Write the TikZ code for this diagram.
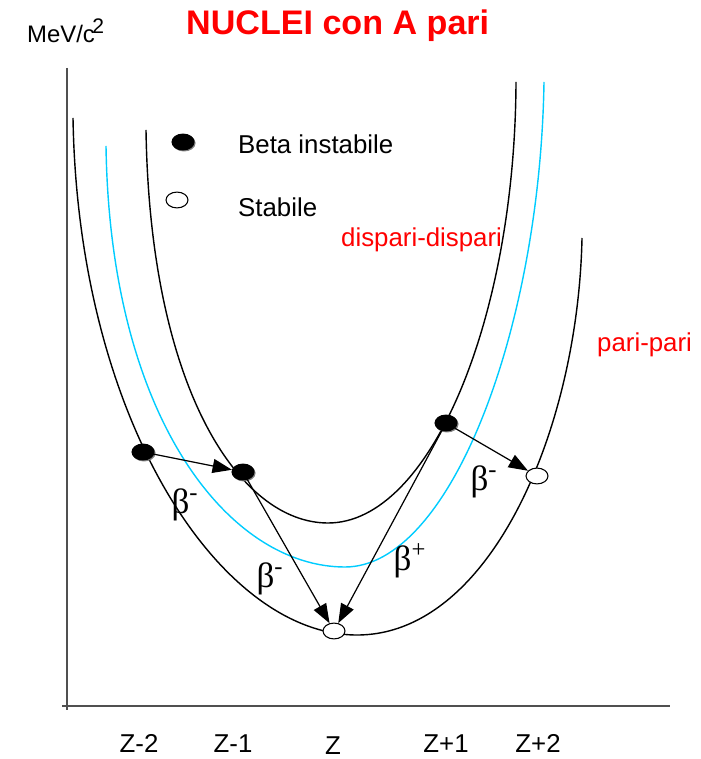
\documentclass[tikz,border=0pt]{standalone}
\usepackage{fontspec}
\setmainfont{Liberation Sans}
\newfontfamily\betafont{Liberation Serif}
\usetikzlibrary{shapes.geometric, shadows, arrows.meta}
\definecolor{NucleiRed}{RGB}{255, 0, 0}
\definecolor{NucleiCyan}{RGB}{0, 204, 255}
\definecolor{NucleiAxis}{RGB}{80, 80, 80}

\tikzset{
    curve/.style={line width=0.8pt},
    nucleus/.style={ellipse, draw, line width=0.6pt, minimum width=12.5pt, minimum height=9pt, inner sep=0pt},
    instabile/.style={nucleus, fill=black, copy shadow={shadow xshift=0.6pt, shadow yshift=-0.6pt, fill=gray, draw=gray}},
    stabile/.style={nucleus, fill=white},
    decay/.style={-{Triangle[length=11pt, width=8pt]}, line width=0.7pt},
    txt/.style={font=\fontsize{14.7}{17}\selectfont},
    betalab/.style={font=\betafont\fontsize{20}{22}\selectfont}
}

\begin{document}
\begin{tikzpicture}[x=0.02cm, y=-0.02cm]
    \useasboundingbox (0,0) rectangle (700,759);

    % --- Axes ---
    \draw[NucleiAxis, line width=1pt] (67,68) -- (67,710);
    \draw[NucleiAxis, line width=1.2pt] (62,706) -- (670,706);

    % --- Mass parabolas ---
    % pari-pari (lower)
    \draw[curve] (73,118) .. controls (78,420) and (220,635) .. (357,635)
                          .. controls (490,635) and (578,430) .. (582,238);
    % middle (cyan)
    \draw[curve, NucleiCyan] (106,146) .. controls (110,420) and (230,567) .. (345,567)
                                       .. controls (450,567) and (540,330) .. (544,82);
    % dispari-dispari (upper)
    \draw[curve] (146,130) .. controls (150,390) and (240,523) .. (328,523)
                           .. controls (430,523) and (515,320) .. (516,82);

    % --- Nuclei ---
    \node[instabile] (zm2) at (143,452) {};
    \node[instabile] (zm1) at (243,472) {};
    \node[stabile] (z0) at (334,631) {};
    \node[instabile] (zp1) at (446,423) {};
    \node[stabile] (zp2) at (537,476) {};

    % --- Decays ---
    \draw[decay] (zm2) -- (zm1);
    \draw[decay] (zm1) -- (z0);
    \draw[decay] (zp1) -- (z0);
    \draw[decay] (zp1) -- (zp2);

    \node[betalab] (bm2) at (185,505) {β\textsuperscript{-}};
    \node[betalab] (bm1) at (270,579) {β\textsuperscript{-}};
    \node[betalab] (bp1) at (410,561) {β\textsuperscript{+}};
    \node[betalab] (bp2) at (484,482) {β\textsuperscript{-}};

    % --- Legend ---
    \node[instabile] (legInst) at (183,142) {};
    \node[stabile] (legStab) at (177,200) {};
    \node[txt, anchor=base west] (legInstTxt) at (232,154) {Beta instabile};
    \node[txt, anchor=base west] (legStabTxt) at (232,217) {Stabile};

    % --- Curve labels ---
    \node[txt, text=NucleiRed, anchor=base west] (lblDispari) at (335,247) {dispari-dispari};
    \node[txt, text=NucleiRed, anchor=base west] (lblPari) at (591,352) {pari-pari};

    % --- Axis labels ---
    \node[font=\fontsize{13.6}{16}\selectfont, anchor=base west] (unit) at (21,43) {MeV/c\kern-1.5pt\raisebox{5.5pt}{\fontsize{12}{12}\selectfont 2}};
    \node[txt, anchor=base] (xm2) at (139,752) {Z-2};
    \node[txt, anchor=base] (xm1) at (233,752) {Z-1};
    \node[txt, anchor=base] (x0) at (333,754) {Z};
    \node[txt, anchor=base] (xp1) at (446,752) {Z+1};
    \node[txt, anchor=base] (xp2) at (538,752) {Z+2};

    % Title
    \node[font=\bfseries\fontsize{19.4}{22}\selectfont, text=NucleiRed, anchor=base west] (title) at (180,35) {NUCLEI con A pari};

\end{tikzpicture}
\end{document}
